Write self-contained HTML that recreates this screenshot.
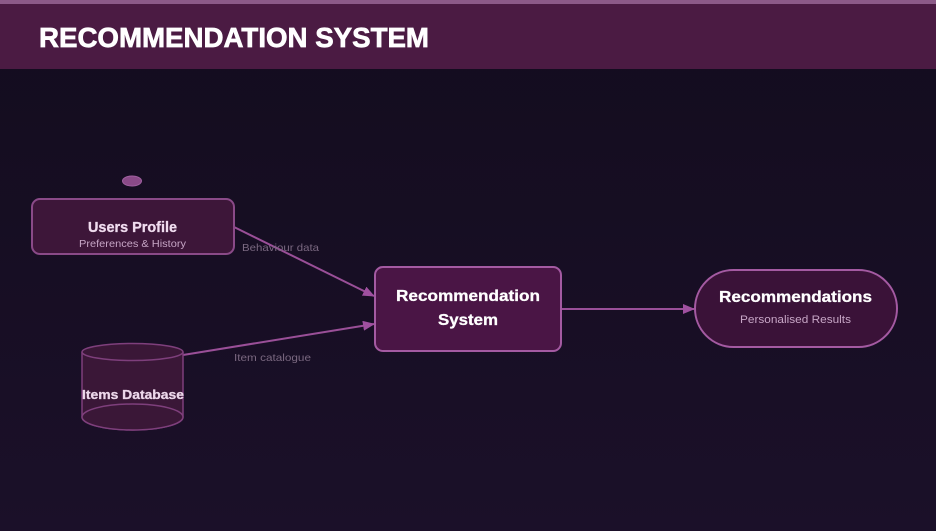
<!DOCTYPE html>
<html><head><meta charset="utf-8"><style>
html,body{margin:0;padding:0;width:936px;height:531px;overflow:hidden;background:#150d20;}
svg{display:block;}
text{font-family:"Liberation Sans",sans-serif;}
</style></head><body>
<svg width="936" height="531" viewBox="0 0 936 531" xmlns="http://www.w3.org/2000/svg">
<defs>
<linearGradient id="bg" x1="0" y1="0" x2="0" y2="1">
<stop offset="0" stop-color="#130c1e"/>
<stop offset="1" stop-color="#1b1029"/>
</linearGradient>
<marker id="ah" markerWidth="12" markerHeight="10" refX="11" refY="5" orient="auto" markerUnits="userSpaceOnUse">
<path d="M0,0 L12,5 L0,10 Z" fill="#a050a0"/>
</marker>
</defs>
<rect x="0" y="0" width="936" height="531" fill="url(#bg)"/>
<rect x="0" y="0" width="936" height="69" fill="#4b1b43"/>
<rect x="0" y="0" width="936" height="4" fill="#8c5a88"/>
<text x="39" y="47" font-size="28" font-weight="bold" fill="#ffffff" stroke="#ffffff" stroke-width="0.7" textLength="390" lengthAdjust="spacingAndGlyphs">RECOMMENDATION SYSTEM</text>

<!-- connectors -->
<line x1="234" y1="227" x2="374" y2="296" stroke="#9a4f98" stroke-width="2" marker-end="url(#ah)"/>
<line x1="183" y1="355" x2="374" y2="324" stroke="#9a4f98" stroke-width="2" marker-end="url(#ah)"/>
<line x1="562" y1="309" x2="694" y2="309" stroke="#9a4f98" stroke-width="2" marker-end="url(#ah)"/>
<text x="242" y="251" font-size="10.5" fill="#7a6880" textLength="77" lengthAdjust="spacingAndGlyphs">Behaviour data</text>
<text x="234" y="361" font-size="10.5" fill="#7a6880" textLength="77" lengthAdjust="spacingAndGlyphs">Item catalogue</text>

<!-- small ellipse -->
<ellipse cx="132" cy="181" rx="9.5" ry="5" fill="#8a4a88" stroke="#a060a0" stroke-width="1"/>

<!-- Users Profile -->
<rect x="32" y="199" width="202" height="55" rx="8" fill="#3d1639" stroke="#8a4a88" stroke-width="2"/>
<text x="88" y="232" font-size="15" font-weight="bold" fill="#f0dcef" stroke="#f0dcef" stroke-width="0.3" textLength="89" lengthAdjust="spacingAndGlyphs">Users Profile</text>
<text x="79" y="247" font-size="10.5" fill="#c7a6c6" textLength="107" lengthAdjust="spacingAndGlyphs">Preferences &amp; History</text>

<!-- Items Database cylinder -->
<path d="M82,352 L82,417 A50.5,13 0 0 0 183,417 L183,352" fill="#3a1737" stroke="#7e3f7c" stroke-width="1.5"/>
<ellipse cx="132.5" cy="417" rx="50.5" ry="13" fill="#3a1737" stroke="#7e3f7c" stroke-width="1.5"/>
<ellipse cx="132.5" cy="352" rx="50.5" ry="8.5" fill="#3a1737" stroke="#7e3f7c" stroke-width="1.5"/>
<text x="82" y="399" font-size="13" font-weight="bold" fill="#ecd7ea" stroke="#ecd7ea" stroke-width="0.3" textLength="102" lengthAdjust="spacingAndGlyphs">Items Database</text>

<!-- Recommendation System -->
<rect x="375" y="267" width="186" height="84" rx="8" fill="#4a1545" stroke="#a45aa2" stroke-width="2"/>
<text x="396" y="301" font-size="16" font-weight="bold" fill="#ffffff" stroke="#ffffff" stroke-width="0.3" textLength="144" lengthAdjust="spacingAndGlyphs">Recommendation</text>
<text x="438" y="325" font-size="16" font-weight="bold" fill="#ffffff" stroke="#ffffff" stroke-width="0.3" textLength="60" lengthAdjust="spacingAndGlyphs">System</text>

<!-- Recommendations -->
<rect x="695" y="270" width="202" height="77" rx="38.5" fill="#3a1238" stroke="#a45aa2" stroke-width="2"/>
<text x="719" y="302" font-size="16" font-weight="bold" fill="#ffffff" stroke="#ffffff" stroke-width="0.3" textLength="153" lengthAdjust="spacingAndGlyphs">Recommendations</text>
<text x="740" y="323" font-size="11" fill="#c7a6c6" textLength="111" lengthAdjust="spacingAndGlyphs">Personalised Results</text>
</svg>
</body></html>
